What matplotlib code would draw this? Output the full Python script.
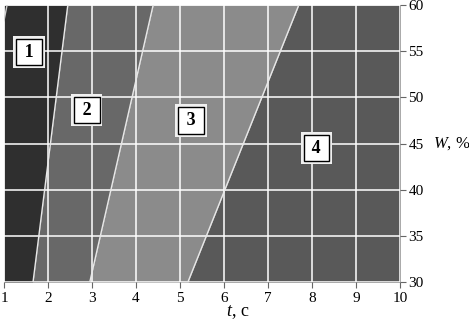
import matplotlib
matplotlib.use("Agg")
import matplotlib.pyplot as plt
import numpy as np

plt.rcParams['font.family'] = ['Liberation Serif', 'DejaVu Serif']
plt.rcParams['mathtext.fontset'] = 'custom'
plt.rcParams['mathtext.rm'] = 'Liberation Serif'
plt.rcParams['mathtext.it'] = 'Liberation Serif:italic'

# Data
W_range = [30, 60]
# zone boundaries: t at W=30 (bottom) and t at W=60 (top)
bound_bottom = [1.66, 2.95, 5.18]
bound_top = [2.45, 4.39, 7.70]
zone_colors = ['#2f2f2f', '#686868', '#8b8b8b', '#595959']
zone_labels = ['1', '2', '3', '4']
label_t = [1.57, 2.88, 5.25, 8.1]
label_W = [54.9, 48.6, 47.5, 44.5]
x_ticks = list(range(1, 11))
y_ticks = [30, 35, 40, 45, 50, 55, 60]
# tiny boundary at the top-left corner: (t, W) points
corner_t = [1.07, 1.0]
corner_W = [60, 58.3]

fig = plt.figure(figsize=(4.69, 3.21), dpi=100)
ax = fig.add_axes([4/469, 1-282/321, 396/469, 277/321])

Wv = np.array(W_range, dtype=float)
lefts = [np.array([1.0, 1.0])]
rights = []
for b, t in zip(bound_bottom, bound_top):
    edge = np.array([b, t])
    rights.append(edge)
    lefts.append(edge)
rights.append(np.array([10.0, 10.0]))
for l, r, c in zip(lefts, rights, zone_colors):
    ax.fill_betweenx(Wv, l, r, color=c, lw=0, zorder=1)

ax.set_xlim(1, 10)
ax.set_ylim(30, 60)
ax.set_xticks(x_ticks)
ax.set_yticks(y_ticks)
ax.grid(True, color='white', lw=1.1, zorder=2)
ax.set_axisbelow(False)

for b, t in zip(bound_bottom, bound_top):
    ax.plot([b, t], Wv, color='#e8e8e8', lw=1.0, zorder=3)
ax.plot(corner_t, corner_W, color='#d0d0d0', lw=1.0, zorder=3)

for s, tx, wy in zip(zone_labels, label_t, label_W):
    lab = '\u2009' + s + '\u2009'
    ax.text(tx, wy, lab, ha='center', va='center', fontsize=13, fontweight='bold',
            zorder=4, color='none',
            bbox=dict(boxstyle='square,pad=0.42', fc='#f0f0f0', ec='none', lw=0))
    ax.text(tx, wy, lab, ha='center', va='center', fontsize=13, fontweight='bold',
            zorder=5,
            bbox=dict(boxstyle='square,pad=0.26', fc='white', ec='black', lw=1.0))

for sp in ax.spines.values():
    sp.set_visible(False)

ax.yaxis.tick_right()
ax.tick_params(axis='both', direction='out', length=4, width=0.8, color='#666666',
               labelsize=11, pad=2)
ax.tick_params(axis='x', pad=3)

ax.text(6.3, 26.7, r'$t$, c', ha='center', va='center', fontsize=13)
ax.text(1.083, 0.5, r'$W$, %', transform=ax.transAxes, ha='left', va='center',
        fontsize=12)

fig.savefig('out.png', dpi=100, facecolor='white')
